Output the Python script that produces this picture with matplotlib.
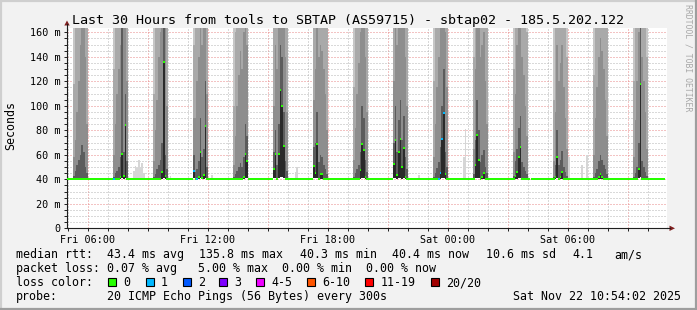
import numpy as np
import matplotlib
matplotlib.use("Agg")
import matplotlib.pyplot as plt
from matplotlib.patches import Rectangle, Polygon
from matplotlib.lines import Line2D

W, H = 697, 310
plt.rcParams['font.family'] = ['DejaVu Sans Mono', 'DejaVu Sans']

# ---- data (hours since Fri 00:00, rtt in ms) ----
band_end_hours = [6, 8, 10, 12, 14, 16, 18, 20, 22, 24, 26, 28, 30, 32, 34]

# every band: 9 five-minute steps, each row = ping percentiles p30, p50 (median), p70, p80, p90
bands = [
    [[40.4, 40.4, 43, 58, 118], [40.4, 40.4, 47, 72, 165], [40.4, 40.4, 52, 95, 230],
     [40.4, 40.4, 56, 120, 280], [40.4, 40.4, 60, 150, 310], [40.4, 40.4, 68, 175, 330],
     [40.4, 40.4, 62, 210, 360], [40.4, 40.4, 50, 140, 290], [40.4, 40.4, 45, 85, 210]],
    [[40.4, 40.4, 42, 60, 130], [40.4, 40.4, 45, 85, 190], [40.4, 40.4, 47, 110, 240],
     [40.4, 40.4, 50, 130, 300], [40.4, 42.0, 58, 150, 320], [41.0, 60.6, 170, 260, 400],
     [40.4, 43.0, 62, 180, 340], [41.0, 84.0, 110, 200, 350], [40.4, 40.4, 55, 120, 260]],
    [[40.4, 40.4, 42, 55, 110], [40.4, 40.4, 44, 80, 170], [40.4, 40.4, 48, 105, 230],
     [40.4, 40.4, 52, 140, 290], [40.4, 40.4, 56, 160, 320], [40.4, 46.0, 70, 190, 350],
     [41.0, 135.8, 190, 280, 420], [40.4, 43.0, 60, 170, 330], [40.4, 40.4, 48, 100, 220]],
    [[41.0, 47.0, 60, 90, 150], [40.4, 40.4, 46, 90, 200], [40.4, 40.4, 48, 120, 260],
     [40.4, 42.0, 55, 140, 300], [41.0, 62.5, 90, 180, 330], [40.4, 41.0, 58, 150, 310],
     [40.4, 43.5, 65, 175, 340], [41.0, 83.5, 120, 210, 360], [40.4, 40.4, 50, 110, 230]],
    [[40.4, 40.4, 42, 52, 100], [40.4, 40.4, 44, 75, 160], [40.4, 40.4, 47, 100, 220],
     [40.4, 40.4, 50, 125, 270], [40.4, 40.4, 53, 145, 300], [40.4, 40.4, 50, 130, 280],
     [40.4, 42.0, 58, 160, 320], [41.0, 61.0, 85, 190, 340], [41.0, 55.0, 75, 150, 280]],
    [[41.0, 48.6, 62, 100, 170], [41.0, 61.0, 80, 150, 260], [40.4, 40.4, 52, 130, 280],
     [41.0, 61.0, 85, 170, 320], [42.0, 113.0, 150, 240, 380], [42.0, 100.0, 140, 230, 370],
     [41.0, 67.4, 95, 190, 340], [40.4, 40.4, 55, 140, 290], [40.4, 40.4, 47, 95, 200]],
    [[41.0, 51.0, 66, 105, 180], [41.0, 45.0, 70, 130, 240], [41.0, 68.8, 95, 170, 300],
     [40.4, 40.4, 54, 140, 290], [40.4, 44.0, 60, 150, 310], [40.4, 44.0, 58, 145, 300],
     [40.4, 40.4, 52, 130, 280], [40.4, 40.4, 48, 110, 240], [40.4, 40.4, 44, 80, 170]],
    [[40.4, 40.4, 42, 56, 115], [40.4, 40.4, 45, 82, 180], [40.4, 40.4, 48, 110, 240],
     [40.4, 40.4, 52, 135, 290], [40.4, 47.6, 62, 160, 320], [41.0, 68.8, 100, 200, 360],
     [41.0, 64.0, 90, 185, 340], [40.4, 42.0, 56, 140, 290], [40.4, 40.4, 46, 95, 200]],
    [[41.0, 52.4, 70, 120, 200], [41.0, 72.0, 100, 180, 300], [40.4, 43.7, 62, 150, 300],
     [41.0, 62.0, 88, 180, 330], [41.0, 73.0, 105, 200, 360], [40.4, 50.3, 72, 170, 330],
     [41.0, 65.5, 92, 185, 340], [40.4, 42.0, 58, 140, 290], [40.4, 40.4, 48, 100, 210]],
    [[40.4, 40.4, 42, 58, 120], [40.4, 40.4, 45, 85, 185], [40.4, 40.4, 49, 115, 250],
     [40.4, 40.4, 54, 140, 300], [40.4, 45.4, 66, 165, 330], [41.0, 72.6, 100, 200, 360],
     [41.0, 94.0, 130, 230, 380], [40.4, 44.0, 62, 160, 320], [40.4, 40.4, 50, 115, 240]],
    [[40.4, 40.4, 44, 65, 140], [41.0, 52.0, 72, 130, 240], [41.0, 76.4, 105, 190, 330],
     [41.0, 55.7, 80, 170, 320], [40.4, 40.4, 54, 140, 290], [40.4, 42.0, 60, 150, 310],
     [40.4, 45.4, 64, 160, 320], [40.4, 40.4, 50, 120, 250], [40.4, 40.4, 45, 85, 180]],
    [[40.4, 40.4, 43, 62, 130], [40.4, 42.7, 55, 110, 220], [40.4, 46.0, 65, 150, 290],
     [41.0, 58.5, 82, 175, 330], [41.0, 66.0, 92, 190, 340], [40.4, 40.4, 54, 140, 290],
     [40.4, 40.4, 50, 125, 260], [40.4, 40.4, 47, 100, 220], [40.4, 40.4, 44, 75, 160]],
    [[40.4, 40.4, 42, 55, 105], [40.4, 42.0, 52, 95, 190], [41.0, 58.0, 80, 150, 280],
     [40.4, 40.4, 52, 120, 260], [40.4, 42.0, 56, 135, 290], [40.4, 45.7, 63, 150, 300],
     [40.4, 40.4, 50, 115, 240], [40.4, 40.4, 46, 90, 190], [40.4, 40.4, 43, 65, 140]],
    [[40.4, 40.4, 42, 60, 125], [40.4, 40.4, 45, 90, 195], [40.4, 40.4, 48, 115, 250],
     [40.4, 42.0, 55, 140, 300], [40.4, 44.3, 60, 155, 320], [40.4, 42.0, 56, 145, 310],
     [40.4, 40.4, 52, 130, 280], [40.4, 40.4, 48, 105, 230], [40.4, 40.4, 44, 75, 165]],
    [[40.4, 40.4, 42, 58, 120], [40.4, 40.4, 45, 88, 190], [40.4, 40.4, 50, 120, 260],
     [41.0, 48.4, 70, 160, 320], [42.0, 118.0, 200, 300, 420], [40.4, 40.4, 55, 140, 300],
     [40.4, 40.4, 50, 120, 260], [40.4, 40.4, 46, 95, 200], [40.4, 40.4, 43, 65, 140]],
]

# (band, step) with one lost ping
loss_steps = [(1, 0), (3, 0), (3, 2), (9, 3), (9, 4), (9, 5), (9, 6)]

baseline_rtt = 40.4
first_step_end = 5.0
n_steps = 359
missing_step_ends = [28.1667]

# isolated light smoke outside the bands
blip_hours = [8.333, 8.417, 8.5, 8.583, 8.667, 8.75, 8.833, 10.167, 12.25,
              16.417, 16.5, 22.583, 24.833, 24.917, 30.083, 30.75, 31.0]
blip_tops = [47, 51, 49, 56, 50, 53, 45, 43, 43.5, 46, 50, 43.5, 58, 81, 58, 52, 60]

loss_labels = ['0', '1', '2', '3', '4-5', '6-10', '11-19', '20/20']
loss_colors = ['#26ff00', '#00b8ff', '#0059ff', '#7e00ff', '#ee00ff', '#ff5500', '#ff0000', '#a10000']

x_ticks = [6, 9, 12, 15, 18, 21, 24, 27, 30, 33]
x_labels = ['Fri 06:00', '', 'Fri 12:00', '', 'Fri 18:00', '', 'Sat 00:00', '', 'Sat 06:00', '']
y_ticks = [0, 20, 40, 60, 80, 100, 120, 140, 160]
y_labels = ['0', '20 m', '40 m', '60 m', '80 m', '100 m', '120 m', '140 m', '160 m']

title = 'Last 30 Hours from tools to SBTAP (AS59715) - sbtap02 - 185.5.202.122'

STEP = 1 / 12
smoke_colors = ['#2a2a2a', '#5c5c5c', '#8e8e8e', '#a9a9a9', '#c6c6c6']
SMOKE_MAX = 1000


def fx(x):
    return x / W


def fy(y):
    return 1 - y / H


fig = plt.figure(figsize=(W / 100, H / 100), dpi=100, facecolor='#f2f2f2')
ax = fig.add_axes([fx(67), fy(228.3), 600 / W, 200.3 / H])
ax.set_facecolor('white')
ax.set_xlim(4.95, 34.95)
ax.set_ylim(0, 163.5)

# smoke
for b, rows in enumerate(bands):
    arr = np.array(rows, dtype=float)
    edges = band_end_hours[b] - 0.75 + np.arange(len(arr) + 1) * STEP
    levels = [arr[:, 0], arr[:, 1], arr[:, 2], arr[:, 3], arr[:, 4], np.full(len(arr), SMOKE_MAX)]
    for i in range(5):
        lo = np.append(levels[i], levels[i][-1])
        hi = np.append(levels[i + 1], levels[i + 1][-1])
        ax.fill_between(edges, lo, hi, step='post', color=smoke_colors[i],
                        linewidth=0, antialiased=False, zorder=2)

ax.bar(np.array(blip_hours) - STEP / 2, np.array(blip_tops) - baseline_rtt, bottom=baseline_rtt,
       width=STEP, color='#d6d6d6', linewidth=0, zorder=2)

# median rtt, one short segment per step
step_ends = first_step_end + np.arange(n_steps) * STEP
med = np.full(n_steps, baseline_rtt)
loss = np.zeros(n_steps, dtype=int)
for b, rows in enumerate(bands):
    k0 = int(round((band_end_hours[b] - 0.75 + STEP - first_step_end) * 12))
    for j, r in enumerate(rows):
        med[k0 + j] = r[1]
for b, j in loss_steps:
    k0 = int(round((band_end_hours[b] - 0.75 + STEP - first_step_end) * 12))
    loss[k0 + j] = 1
for t in missing_step_ends:
    med[int(round((t - first_step_end) * 12))] = np.nan

ok = ~np.isnan(med)
ax.hlines(med[ok], step_ends[ok] - STEP, step_ends[ok],
          colors=[loss_colors[l] for l in loss[ok]], linewidth=1.44, zorder=5)

# axes, ticks, grid
ax.set_xticks(x_ticks)
ax.set_xticklabels(x_labels)
ax.set_xticks(np.arange(5, 35, 1), minor=True)
ax.set_yticks(y_ticks)
ax.set_yticklabels(y_labels)
ax.set_yticks(np.arange(0, 165, 5), minor=True)
ax.tick_params(which='both', direction='out', length=2, width=0.7, color='#1f1f1f')
ax.tick_params(which='major', labelsize=7.3, pad=2.5)
ax.grid(which='major', color='#e98888', linestyle=(0, (1, 2)), linewidth=0.72)
ax.grid(which='minor', color='#b4b4b4', linestyle=(0, (1, 2)), linewidth=0.72)
ax.set_axisbelow(True)
for s in ['top', 'right']:
    ax.spines[s].set_visible(False)
for s in ['left', 'bottom']:
    ax.spines[s].set_color('#1f1f1f')
    ax.spines[s].set_linewidth(0.8)

# axis extensions and arrows
fig.add_artist(Line2D([fx(67), fx(67)], [fy(28.3), fy(24)], color='#1f1f1f', lw=0.8))
fig.add_artist(Line2D([fx(667), fx(670)], [fy(228.3), fy(228.3)], color='#1f1f1f', lw=0.8))
fig.add_artist(Polygon([(fx(64.3), fy(25.5)), (fx(69.7), fy(25.5)), (fx(67), fy(20.5))],
                       closed=True, transform=fig.transFigure, color='#801f1f', lw=0))
fig.add_artist(Polygon([(fx(669.5), fy(225.6)), (fx(669.5), fy(231)), (fx(675), fy(228.3))],
                       closed=True, transform=fig.transFigure, color='#801f1f', lw=0))

# frame shading
fig.add_artist(Line2D([0, 1], [fy(0.7), fy(0.7)], color='#cfcfcf', lw=1.6))
fig.add_artist(Line2D([fx(0.7), fx(0.7)], [0, 1], color='#cfcfcf', lw=1.6))
fig.add_artist(Line2D([0, 1], [fy(309), fy(309)], color='#9e9e9e', lw=1.6))
fig.add_artist(Line2D([fx(696), fx(696)], [0, 1], color='#9e9e9e', lw=1.6))

# texts
fig.text(fx(347.7), fy(24), title, ha='center', va='baseline', fontsize=9.6)
fig.text(fx(11), fy(125), 'Seconds', rotation=90, ha='center', va='center', fontsize=8.4)
fig.text(fx(688), fy(4), 'RRDTOOL / TOBI OETIKER', rotation=270, ha='center', va='top',
         fontsize=5.9, color='#a8a8a8')

fs = 8.4
rows_text = [
    (258.3, [(16, 'median rtt:'), (107, '43.4 ms avg'), (199, '135.8 ms max'), (300.5, '40.3 ms min'),
             (392.5, '40.4 ms now'), (486, '10.6 ms sd'), (572, '4.1'), (614.5, 'am/s')]),
    (272.3, [(16, 'packet loss:'), (107, '0.07 % avg'), (198, '5.00 % max'), (282, '0.00 % min'),
             (366, '0.00 % now')]),
    (286.3, [(16, 'loss color:')]),
    (300.3, [(16, 'probe:'), (107, '20 ICMP Echo Pings (56 Bytes) every 300s'),
             (513.3, 'Sat Nov 22 10:54:02 2025')]),
]
for yb, items in rows_text:
    for x, s in items:
        fig.text(fx(x), fy(yb), s, ha='left', va='baseline', fontsize=fs)

box_x = [108.3, 145.7, 182.7, 219, 256, 307.3, 365.3, 430.7]
for x, lab, col in zip(box_x, loss_labels, loss_colors):
    fig.add_artist(Rectangle((fx(x), fy(286)), 8 / W, 8.3 / H, transform=fig.transFigure,
                             facecolor=col, edgecolor='black', linewidth=0.8))
    fig.text(fx(x + 15), fy(286.3), lab, ha='left', va='baseline', fontsize=fs)

fig.savefig('out.png', dpi=100, facecolor=fig.get_facecolor())
